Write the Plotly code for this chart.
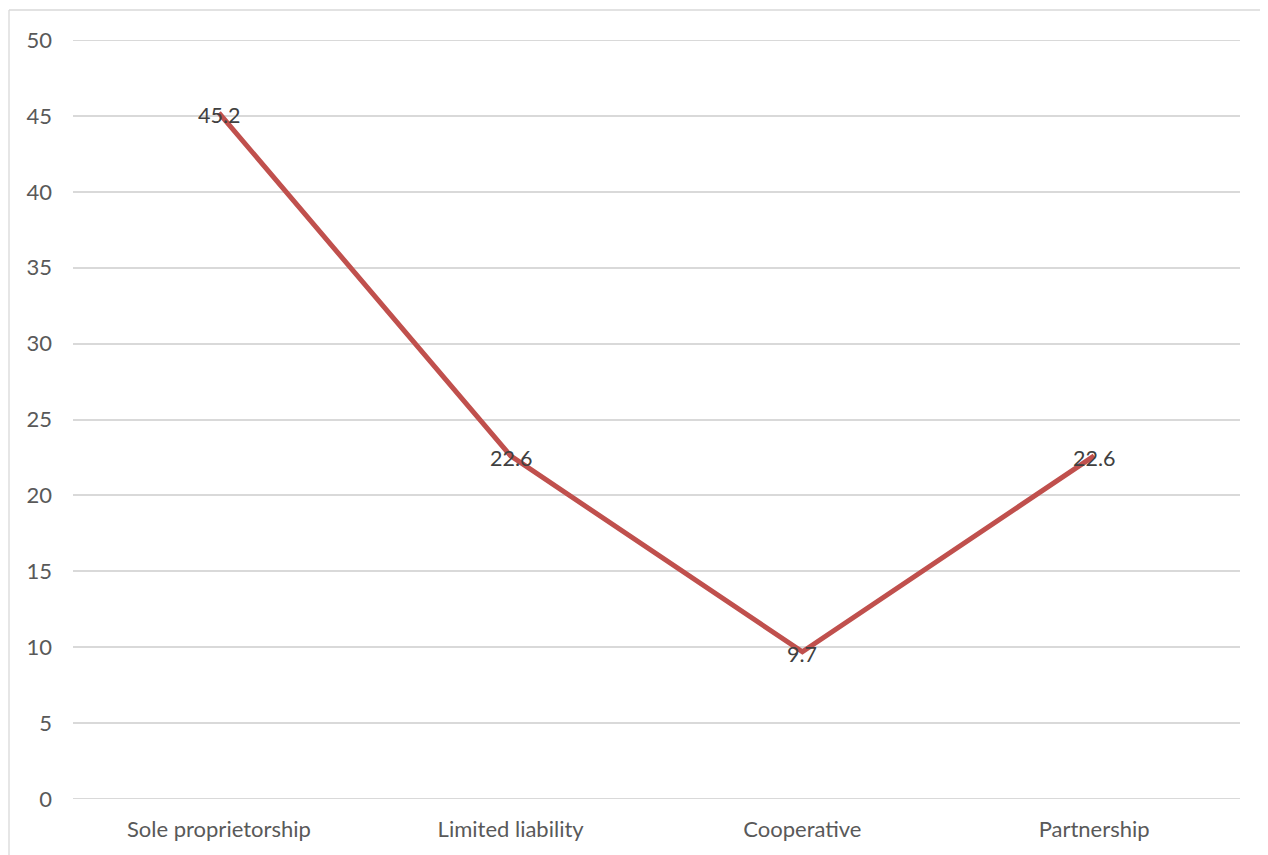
import plotly.graph_objects as go

categories = ["Sole proprietorship", "Limited liability", "Cooperative", "Partnership"]
values = [45.2, 22.6, 9.7, 22.6]
labels = ["45.2", "22.6", "9.7", "22.6"]
y_ticks = [0, 5, 10, 15, 20, 25, 30, 35, 40, 45, 50]

# page body has an 8px default margin, so the figure is offset by 8px
W, H = 1260, 847
L, R, T, B = 65, 28, 32, 56

FONT = "Lato, Carlito, Open Sans, sans-serif"
GRID = "#D9D9D9"

fig = go.Figure()
fig.add_trace(go.Scatter(
    x=[0, 1, 2, 3], y=values,
    mode="lines",
    line=dict(color="#C0504D", width=5),
    hoverinfo="skip",
))

# data labels, centred on the points
for i, (v, t) in enumerate(zip(values, labels)):
    fig.add_annotation(x=i, y=v, text=t, showarrow=False, yshift=-2.5,
                       font=dict(family=FONT, size=21.5, color="#404040"))

pw = W - L - R
ph = H - T - B

def px_x(p):
    return (p - L) / pw

def px_y(p):
    return (H - B - p) / ph

shapes = []
# gridlines at the range edges (plotly hides those)
for v in (y_ticks[0], y_ticks[-1]):
    shapes.append(dict(type="line", xref="paper", yref="y", x0=0, x1=1, y0=v, y1=v,
                       line=dict(color=GRID, width=1.8), layer="below"))
# chart-area border (left, top, right)
for (x0, y0, x1, y1) in [(1, 2, 1, H + 40), (1, 2, 1258, 2), (1258, 2, 1258, H + 40)]:
    shapes.append(dict(type="line", xref="paper", yref="paper",
                       x0=px_x(x0), y0=px_y(y0), x1=px_x(x1), y1=px_y(y1),
                       line=dict(color=GRID, width=1.3), layer="below"))

fig.update_layout(
    width=W, height=H,
    margin=dict(l=L, r=R, t=T, b=B),
    paper_bgcolor="white", plot_bgcolor="white",
    showlegend=False,
    font=dict(family=FONT, size=22, color="#595959"),
    xaxis=dict(
        range=[-0.5, 3.5],
        tickvals=[0, 1, 2, 3], ticktext=categories,
        showgrid=False, zeroline=False, showline=False,
        ticks="", ticklen=0, ticklabelstandoff=15,
        tickfont=dict(family=FONT, size=22, color="#595959"),
    ),
    yaxis=dict(
        range=[0, 50],
        tickvals=y_ticks,
        showgrid=True, gridcolor=GRID, gridwidth=1.6,
        zeroline=False, showline=False,
        ticks="", ticklabelstandoff=20,
        tickfont=dict(family=FONT, size=22, color="#595959"),
    ),
    shapes=shapes,
)

fig.write_html("out.html")
